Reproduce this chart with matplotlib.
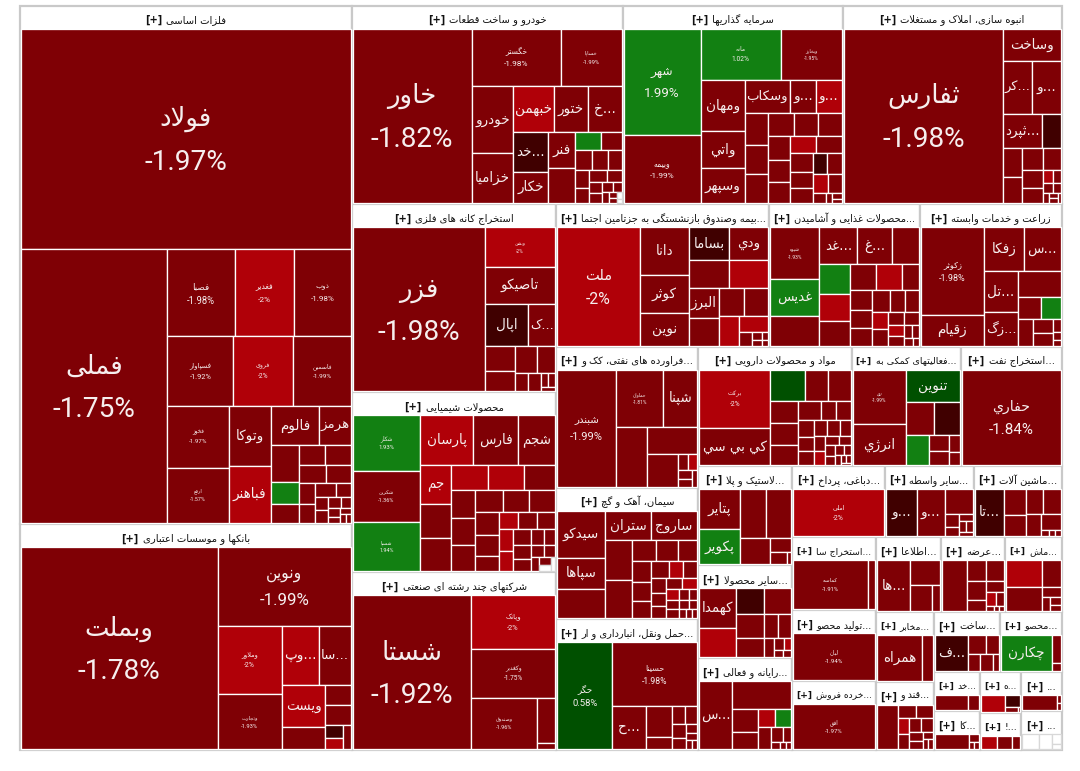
import unicodedata

import matplotlib
matplotlib.use("Agg")
import matplotlib.pyplot as plt
from matplotlib.patches import Rectangle

metals_names = ["فولاد", "فملی", "فصبا", "فغدیر", "ذوب", "فسپاوار", "فروی", "فاسمین", "فخوز", "ارفع", "وتوكا", "فباهنر", "فالوم", "هرمز"]
metals_values = [69200, 38200, 5600, 4900, 4700, 4350, 3950, 3800, 3600, 3200, 2400, 2300, 1800, 1200, 960, 600, 500, 490, 480, 470, 420, 320, 290, 280, 200, 170, 160, 130, 110, 90, 70, 60, 50, 40]
metals_changes = [-1.97, -1.75, -1.98, -2, -1.98, -1.92, -2, -1.99, -1.97, -1.57, -1.9, -2, -1.9, -1.9, -1.9, 1.5, -1.9, -1.9, -1.9, -1.9, -1.9, -1.9, -1.9, -1.9, -1.9, -1.9, -1.9, -1.9, -1.9, -1.9, -1.9, -1.9, -1.9, -1.9]

banks_names = ["وبملت", "ونوین", "وملاور", "وتجارت", "وپ...", "سا...", "ویست"]
banks_values = [39200, 10300, 4300, 3500, 2180, 1830, 1800, 950, 520, 500, 220, 200, 180]
banks_changes = [-1.78, -1.99, -2, -1.93, -2, -1.9, -2, -1.9, -1.9, -1.9, -0.6, -2, -1.9]

auto_names = ["خاور", "خگستر", "خساپا", "خودرو", "خزامیا", "خبهمن", "ختور", "خ...", "خد...", "خکار", "فنر"]
auto_values = [19900, 4950, 3400, 2680, 2000, 1750, 1500, 1450, 1350, 1060, 930, 900, 450, 370, 340, 300, 280, 240, 210, 200, 170, 130, 120, 100, 80, 70, 50, 40, 30, 20]
auto_changes = [-1.82, -1.98, -1.99, -1.9, -1.9, -2, -1.9, -1.9, -0.6, -1.9, -1.9, -1.9, 1.5, -1.9, -1.9, -1.9, -1.9, -1.9, -1.9, -1.9, -1.9, -1.9, -1.9, -1.9, -1.9, -1.9, -1.9, -1.9, None, None]

invest_names = ["شهر", "وبیمه", "مانه", "وبخارز", "ومهان", "واتي", "وسپهر", "وسکاب", "و...", "و..."]
invest_values = [7900, 5000, 3970, 3000, 2200, 1560, 1500, 1400, 830, 800, 710, 660, 640, 560, 530, 520, 500, 470, 440, 440, 420, 410, 350, 330, 290, 290, 280, 260, 120, 60, 50, 40]
invest_changes = [1.99, -1.99, 1.02, -1.95, -1.9, -1.9, -1.9, -1.9, -1.9, -2, -1.9, -1.9, -1.9, -1.9, -1.9, -1.9, -1.9, -1.9, -1.9, -2, -1.9, -1.9, -1.9, -1.9, -0.6, -1.9, -2, -1.9, -1.9, -1.9, -1.9, -1.9]

build_names = ["ثفارس", "وساخت", "کر...", "و...", "ثپرد..."]
build_values = [26600, 1800, 1450, 1400, 1280, 600, 520, 470, 440, 370, 350, 300, 130, 100, 90, 70, 60, 50, 40, 30]
build_changes = [-1.98, -1.9, -1.9, -1.9, -1.9, -0.6, -1.9, -1.9, -1.9, -1.9, -1.9, -1.9, -2, -1.9, -1.9, -1.9, -1.9, -1.9, -1.9, -1.9]

mining_names = ["فزر", "وبشن", "تاصیکو", "اپال", "ک..."]
mining_values = [20800, 2700, 2500, 1800, 1100, 710, 590, 560, 480, 230, 220, 100, 90, 60]
mining_changes = [-1.98, -2, -1.9, -0.6, -1.9, -1.9, -1.9, -1.9, -1.9, -1.9, -1.9, -1.9, -1.9, -1.9]

chem_names = ["شکلر", "شکربن", "شسپا", "پارسان", "فارس", "شجم", "جم"]
chem_values = [3500, 3200, 3100, 2480, 2060, 1730, 1150, 1000, 950, 900, 850, 760, 640, 600, 590, 560, 540, 530, 500, 470, 330, 320, 310, 290, 280, 270, 260, 240, 210, 190, 170, 150, 130, 110, 90, 70, 50]
chem_changes = [1.93, -1.36, 1.94, -2, -1.9, -1.9, -2, -1.9, -1.9, -2, -2, -1.9, -1.9, -1.9, -1.9, -1.9, -1.9, -1.9, -1.9, -1.9, -1.9, -2, -1.9, -1.9, -2, -2, -1.9, -1.9, -1.9, -1.9, -1.9, -1.9, -1.9, -1.9, -1.9, None, None]

multi_names = ["شستا", "وپانک", "وکغدیر", "وصندوق"]
multi_values = [17750, 4450, 3950, 3300, 800, 110]
multi_changes = [-1.92, -2, -1.75, -1.96, -1.9, -1.9]

insur_names = ["ملت", "دانا", "کوثر", "نوین", "بساما", "ودي", "", "", "البرز"]
insur_values = [9200, 2200, 1770, 1500, 1240, 1180, 1080, 1030, 870, 800, 650, 650, 540, 420, 170, 80, 50, 50, 30]
insur_changes = [-2, -1.9, -1.9, -1.9, -0.6, -1.9, -1.9, -2, -1.9, -1.9, -1.9, -1.9, -2, -2, -1.9, -1.9, -1.9, -1.9, -1.9]

food_names = ["شیوه", "غدیس", "", "غد...", "غ..."]
food_values = [2400, 1700, 1370, 1300, 1180, 925, 850, 750, 700, 650, 630, 420, 420, 380, 360, 350, 300, 280, 260, 240, 200, 180, 160, 130, 100, 80, 60, 40]
food_changes = [-1.93, 1.5, -1.9, -1.9, -1.9, -1.9, 1.5, -2, -1.9, -1.9, -2, -1.9, -1.9, -1.9, -1.9, -1.9, -1.9, -1.9, -2, -1.9, -1.9, -1.9, -2, -1.9, -1.9, -1.9, -1.9, -1.9]

agri_names = ["زکوثر", "زقیام", "زفکا", "س...", "تل...", "زگ..."]
agri_values = [5200, 1830, 1640, 1500, 1300, 1060, 1050, 450, 390, 370, 260, 240, 100, 60, 40]
agri_changes = [-1.98, -1.9, -1.9, -1.9, -1.9, -1.9, -1.9, -1.9, 1.5, -1.9, -1.9, -1.9, -1.9, -1.9, -1.9]

refine_names = ["شبندر", "حماوان", "شپنا"]
refine_values = [6600, 2580, 1850, 1740, 1300, 990, 150, 140, 120, 100, 80]
refine_changes = [-1.99, -1.81, -1.9, -1.9, -1.9, -1.9, -1.9, -2, -1.9, -1.9, -1.9]

cement_names = ["سیدكو", "سپاها", "", "ستران", "ساروج"]
cement_values = [2100, 1400, 1330, 1300, 1280, 1000, 980, 470, 420, 380, 370, 360, 310, 280, 240, 220, 210, 190, 170, 160, 150, 130, 120, 110, 100, 90, 80, 70, 60, 50, 40]
cement_changes = [-1.9, -1.9, -1.9, -1.9, -1.9, -1.9, -1.9, -1.9, -1.9, -1.9, -1.9, -1.9, -1.9, -1.9, -2, -1.9, -1.9, -1.9, -1.9, -1.9, -2, -2, -1.9, -1.9, -1.9, -1.9, -1.9, -1.9, -1.9, -1.9, -1.9]

trans_names = ["حگر", "حسینا", "ح..."]
trans_values = [5700, 5200, 1400, 800, 290, 240, 210, 190, 150, 100, 80, 60, 40]
trans_changes = [0.58, -1.98, -1.9, -1.9, -1.9, -1.9, -1.9, -1.9, -1.9, -1.9, -1.9, -1.9, -1.9]

pharma_names = ["برکت", "کي بي سي"]
pharma_values = [3700, 2300, 950, 650, 620, 550, 530, 480, 400, 260, 250, 230, 200, 200, 180, 170, 150, 150, 130, 110, 100, 90, 80, 70, 60, 50, 40, 30, 20]
pharma_changes = [-2, -1.9, 0.5, -1.9, -1.9, -1.9, -1.9, -1.9, -1.9, -1.9, -1.9, -1.9, -1.9, -1.9, -1.9, -1.9, -1.9, -1.9, -2, -1.9, -1.9, -1.9, -1.9, -1.9, -1.9, -1.9, -1.9, -1.9, -1.9]

support_names = ["ری", "انرژي", "تنوین"]
support_values = [2700, 2000, 1600, 880, 800, 620, 300, 260, 160, 130]
support_changes = [-1.99, -1.9, 0.5, -1.9, -0.6, 1.5, -1.9, -1.9, -1.9, -1.9]

oil_names = ["حفاري"]
oil_values = [9000]
oil_changes = [-1.84]

rubber_names = ["پتایر", "پکویر"]
rubber_values = [1480, 1330, 1130, 1130, 720, 270, 190, 50]
rubber_changes = [-1.9, 1.5, -1.9, -1.9, -1.9, -1.9, -1.9, -1.9]

other_names = ["کهمدا"]
other_values = [1330, 980, 640, 620, 600, 490, 300, 280, 170, 100, 80, 60, 50]
other_changes = [-1.9, -2, -0.6, -1.9, -1.9, -1.9, -1.9, -1.9, -1.9, -1.9, -2, -1.9, -1.9]

comp_names = ["س..."]
comp_values = [2100, 1480, 560, 390, 300, 280, 270, 170, 110, 60, 40, 30]
comp_changes = [-1.9, -1.9, -1.9, -1.9, -2, 1.5, -1.9, -1.9, -1.9, -1.9, -1.9, -1.9]

tan_names = ["املی"]
tan_values = [4100]
tan_changes = [-2]

broker_names = ["و...", "و..."]
broker_values = [1290, 1200, 620, 160, 110, 90, 70, 60, 50]
broker_changes = [-0.6, -1.9, -1.9, -1.9, -1.9, -1.9, -1.9, -1.9, -1.9]

mach_names = ["تا..."]
mach_values = [1200, 500, 400, 400, 380, 300, 255, 40, 35, 30]
mach_changes = [-0.6, -1.9, -1.9, -1.9, -1.9, -1.9, -1.9, -1.9, -1.9, -1.9]

extract_names = ["کماسه"]
extract_values = [3400, 320]
extract_changes = [-1.91, -1.9]

prod_names = ["لبان"]
prod_values = [3600]
prod_changes = [-1.94]

retail_names = ["افق"]
retail_values = [3400]
retail_changes = [-1.97]

info_names = ["ها..."]
info_values = [1480, 640, 480, 190]
info_changes = [-1.9, -1.9, -1.9, -1.9]

supply_names = []
supply_values = [1080, 330, 320, 300, 170, 170, 130, 100, 30, 20, 20]
supply_changes = [-1.9, -1.9, -1.9, -1.9, -1.9, -1.9, -2, -1.9, -1.9, -1.9, -1.9]

mash_names = []
mash_values = [770, 700, 410, 150, 90, 70, 50]
mash_changes = [-2, -1.9, -1.9, -1.9, -1.9, -1.9, -1.9]

telecom_names = ["همراه"]
telecom_values = [1850, 450]
telecom_changes = [-1.9, -1.9]

sugar_names = []
sugar_values = [780, 200, 190, 150, 150, 140, 140, 100, 90, 60, 50, 40]
sugar_changes = [-1.9, -1.9, -1.9, -2, -1.9, -1.9, -1.9, -1.9, -1.9, -1.9, -1.9, -1.9]

contr_names = ["ف..."]
contr_values = [1000, 300, 200, 190, 190, 80]
contr_changes = [-0.6, -1.9, -1.9, -1.9, -1.9, -1.9]

misc_names = ["چکارن"]
misc_values = [1600, 220, 60]
misc_changes = [1.5, -1.9, -1.9]

wholesale_names = []
wholesale_values = [450, 150]
wholesale_changes = [-1.9, -1.9]

kala_names = []
kala_values = [450, 70, 30, 30]
kala_changes = [-1.9, -1.9, -1.9, -1.9]

heh_names = []
heh_values = [370, 170, 60, 10]
heh_changes = [-2, -0.6, -1.9, -1.9]

excl_names = []
excl_values = [150, 130, 80]
excl_changes = [-2, -1.9, -1.9]

dot_names = []
dot_values = [330, 15, 15]
dot_changes = [-1.9, -1.9, -1.9]

empty_names = []
empty_values = [230, 180, 80, 40]
empty_changes = [None, None, None, None]

# names that also show their percentage in the reference
pct_names = ["فولاد", "فملی", "فصبا", "فغدیر", "ذوب", "فسپاوار", "فروی", "فاسمین", "فخوز", "ارفع",
             "وبملت", "ونوین", "وملاور", "وتجارت", "خاور", "خگستر", "خساپا", "شهر", "وبیمه", "مانه",
             "وبخارز", "ثفارس", "فزر", "وبشن", "شکلر", "شکربن", "شسپا", "شستا", "وپانک", "وکغدیر",
             "وصندوق", "ملت", "شیوه", "زکوثر", "شبندر", "حماوان", "حگر", "حسینا", "برکت", "ری",
             "حفاري", "املی", "کماسه", "لبان", "افق"]

SECTORS = [
    ("فلزات اساسی", 172000, metals_names, metals_values, metals_changes),
    ("بانکها و موسسات اعتباری", 75000, banks_names, banks_values, banks_changes),
    ("خودرو و ساخت قطعات", 53700, auto_names, auto_values, auto_changes),
    ("سرمایه گذاریها", 43600, invest_names, invest_values, invest_changes),
    ("انبوه سازی، املاک و مستغلات", 43400, build_names, build_values, build_changes),
    ("استخراج کانه های فلزی", 38350, mining_names, mining_values, mining_changes),
    ("محصولات شیمیایی", 36700, chem_names, chem_values, chem_changes),
    ("شرکتهای چند رشته ای صنعتی", 36300, multi_names, multi_values, multi_changes),
    ("بیمه وصندوق بازنشستگی به جزتامین اجتما...", 30250, insur_names, insur_values, insur_changes),
    ("محصولات غذایی و آشامیدن...", 21440, food_names, food_values, food_changes),
    ("زراعت و خدمات وابسته", 20160, agri_names, agri_values, agri_changes),
    ("فراورده های نفتی، کک و ...", 20000, refine_names, refine_values, refine_changes),
    ("سیمان، آهک و گچ", 18650, cement_names, cement_values, cement_changes),
    ("حمل ونقل، انبارداری و ار...", 18500, trans_names, trans_values, trans_changes),
    ("مواد و محصولات دارویی", 18300, pharma_names, pharma_values, pharma_changes),
    ("فعالیتهای کمکی به...", 12970, support_names, support_values, support_changes),
    ("استخراج نفت ...", 12000, oil_names, oil_values, oil_changes),
    ("لاستیک و پلا...", 9360, rubber_names, rubber_values, rubber_changes),
    ("سایر محصولا...", 8740, other_names, other_values, other_changes),
    ("رایانه و فعالی...", 8600, comp_names, comp_values, comp_changes),
    ("دباغی، پرداخ...", 6600, tan_names, tan_values, tan_changes),
    ("سایر واسطه ...", 6320, broker_names, broker_values, broker_changes),
    ("ماشین آلات ...", 6250, mach_names, mach_values, mach_changes),
    ("استخراج سا...", 6130, extract_names, extract_values, extract_changes),
    ("تولید محصو...", 5880, prod_names, prod_values, prod_changes),
    ("خرده فروش...", 5800, retail_names, retail_values, retail_changes),
    ("اطلاعا...", 4875, info_names, info_values, info_changes),
    ("عرضه ...", 4800, supply_names, supply_values, supply_changes),
    ("ماش...", 4200, mash_names, mash_values, mash_changes),
    ("مخابر...", 4060, telecom_names, telecom_values, telecom_changes),
    ("قند و ...", 3950, sugar_names, sugar_values, sugar_changes),
    ("ساخت ...", 3940, contr_names, contr_values, contr_changes),
    ("محصو...", 3700, misc_names, misc_values, misc_changes),
    ("خد...", 1800, wholesale_names, wholesale_values, wholesale_changes),
    ("کا...", 1790, kala_names, kala_values, kala_changes),
    ("ه...", 1680, heh_names, heh_values, heh_changes),
    ("!...", 1520, excl_names, excl_values, excl_changes),
    ("...", 1570, dot_names, dot_values, dot_changes),
    ("...", 1560, empty_names, empty_values, empty_changes),
]

PX = 0.72  # points per pixel at dpi 100
ARABIC_FONT = ["DejaVu Sans"]
PCT_FONT = ["Roboto", "DejaVu Sans"]

# --- arabic shaping: matplotlib has no bidi, so build presentation forms by hand
FORMS = {}
for cp in range(0xFB50, 0xFEFD):
    dec = unicodedata.decomposition(chr(cp)).split()
    if len(dec) == 2 and dec[0] in ("<isolated>", "<final>", "<initial>", "<medial>"):
        FORMS.setdefault(chr(int(dec[1], 16)), {})[dec[0]] = chr(cp)
LAM_ALEF = {"ا": ("\ufefb", "\ufefc"), "آ": ("\ufef5", "\ufef6"), "أ": ("\ufef7", "\ufef8"), "إ": ("\ufef9", "\ufefa")}


def joins_next(ch):
    f = FORMS.get(ch, {})
    return "<initial>" in f or "<medial>" in f


def shape(text):
    """Return the arabic string in visual order, trailing dots stay on the right."""
    dots = ""
    if text.endswith("..."):
        text, dots = text[:-3].rstrip(), "..."
    out = []
    i = 0
    prev_join = False
    while i < len(text):
        ch = text[i]
        nxt = text[i + 1] if i + 1 < len(text) else ""
        if ch == "ل" and nxt in LAM_ALEF:
            out.append(LAM_ALEF[nxt][1 if prev_join else 0])
            prev_join = False
            i += 2
            continue
        if ch not in FORMS:
            out.append(ch)
            prev_join = False
            i += 1
            continue
        next_joins = nxt in FORMS
        f = FORMS[ch]
        if prev_join and next_joins and "<medial>" in f:
            g = f["<medial>"]
        elif prev_join and "<final>" in f:
            g = f["<final>"]
        elif next_joins and "<initial>" in f:
            g = f["<initial>"]
        else:
            g = f.get("<isolated>", ch)
        out.append(g)
        prev_join = joins_next(ch)
        i += 1
    return "".join(reversed(out)) + dots


def squarify(values, x0, y0, x1, y1, ratio=1.0):
    """Squarified layout (row along the short side), returns one (x0, y0, x1, y1) per value."""
    rects = []
    remaining = float(sum(values))
    i0, n = 0, len(values)
    while i0 < n:
        dx, dy = x1 - x0, y1 - y0
        total = min_v = max_v = values[i0]
        alpha = max(dy / dx, dx / dy) / (remaining * ratio)
        beta = total * total * alpha
        best = max(max_v / beta, beta / min_v)
        i1 = i0 + 1
        while i1 < n:
            v = values[i1]
            total += v
            min_v, max_v = min(min_v, v), max(max_v, v)
            beta = total * total * alpha
            r = max(max_v / beta, beta / min_v)
            if r > best:
                total -= v
                break
            best = r
            i1 += 1
        row = values[i0:i1]
        if dx < dy:
            h = dy * total / remaining
            x = x0
            for v in row:
                w = dx * v / total
                rects.append((x, y0, x + w, y0 + h))
                x += w
            y0 += h
        else:
            w = dx * total / remaining
            y = y0
            for v in row:
                h = dy * v / total
                rects.append((x0, y, x0 + w, y + h))
                y += h
            x0 += w
        remaining -= total
        i0 = i1
    return rects


def tile_color(change):
    if change is None:
        return "white"
    if change <= -2:
        return "#b00008"
    if change <= -1:
        return "#7f0005"
    if change < 0:
        return "#400000"
    if change < 1:
        return "#005000"
    return "#128012"


def fmt_pct(change):
    return f"{change:g}%"


fig = plt.figure(figsize=(10.8, 7.71), dpi=100)
ax = fig.add_axes([0, 0, 1, 1])
ax.set_xlim(0, 1080)
ax.set_ylim(771, 0)
ax.axis("off")
renderer = fig.canvas.get_renderer()


def draw_header(title, x0, x1, y):
    arabic = ax.text(0, y, shape(title), fontsize=10 * PX, family=ARABIC_FONT, ha="left", va="center", color="#111111")
    plus = ax.text(0, y, "[+]", fontsize=10 * PX, family=ARABIC_FONT, weight="bold", ha="left", va="center", color="#111111")
    wa = arabic.get_window_extent(renderer).width
    wp = plus.get_window_extent(renderer).width
    # keep long titles inside the cell
    room = x1 - x0 - 8
    if wa + wp + 4 > room:
        scale = room / (wa + wp + 4)
        arabic.set_fontsize(10 * PX * scale)
        plus.set_fontsize(10 * PX * scale)
        wa *= scale
        wp *= scale
    left = (x0 + x1) / 2 - (wa + wp + 4) / 2
    plus.set_x(left)
    arabic.set_x(left + wp + 4)


sector_rects = squarify([s[1] for s in SECTORS], 19.5, 5.5, 1061.5, 750)
for (title, _, names, values, changes), (sx0, sy0, sx1, sy1) in zip(SECTORS, sector_rects):
    ax.add_patch(Rectangle((sx0, sy0), sx1 - sx0, sy1 - sy0, facecolor="white", edgecolor="#c9c9c9", linewidth=2.2 * PX, zorder=1))
    draw_header(title, sx0, sx1, sy0 + 14.5)
    tiles = squarify(values, sx0 + 1, sy0 + 23, sx1 - 1, sy1 - 1)
    for i, (tx0, ty0, tx1, ty1) in enumerate(tiles):
        change = changes[i]
        edge = "#d8d8d8" if change is None else "white"
        ax.add_patch(Rectangle((tx0, ty0), tx1 - tx0, ty1 - ty0, facecolor=tile_color(change), edgecolor=edge, linewidth=1.3 * PX, zorder=2))
        name = names[i] if i < len(names) else ""
        if not name:
            continue
        cx, cy = (tx0 + tx1) / 2, (ty0 + ty1) / 2
        area = (tx1 - tx0) * (ty1 - ty0)
        if name in pct_names:
            size = max(4.5, min(26, area / 670))
            ax.text(cx, cy - 0.75 * size, shape(name), fontsize=size * PX, family=ARABIC_FONT, color="#f6eeee", ha="center", va="center", zorder=3)
            ax.text(cx, cy + 0.9 * size, fmt_pct(change), fontsize=1.08 * size * PX, family=PCT_FONT, color="#f6eeee", ha="center", va="center", zorder=3)
        else:
            label = ax.text(cx, cy, shape(name), fontsize=13.5 * PX, family=ARABIC_FONT, color="#f6eeee", ha="center", va="center", zorder=3)
            width = label.get_window_extent(renderer).width
            room = tx1 - tx0 - 3
            if width > room:
                label.set_fontsize(13.5 * PX * room / width)

fig.savefig("out.png", dpi=100, facecolor="white")
